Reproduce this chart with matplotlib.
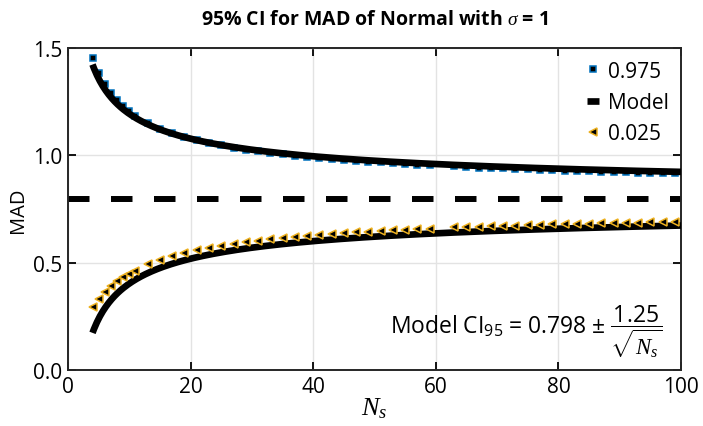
import matplotlib
matplotlib.use("Agg")
import matplotlib.pyplot as plt
import numpy as np

plt.rcParams["font.family"] = ["Open Sans", "DejaVu Sans"]
plt.rcParams["mathtext.fontset"] = "custom"
plt.rcParams["mathtext.rm"] = "Open Sans"
plt.rcParams["mathtext.sf"] = "Open Sans"
plt.rcParams["mathtext.it"] = "Liberation Serif:italic"
plt.rcParams["mathtext.bf"] = "Open Sans:bold"

# Sample sizes used in the simulation
sample_sizes = [4, 5, 6, 7, 8, 9, 10, 11, 13, 15, 17, 19, 21, 23, 25, 27, 29, 31,
                33, 35, 37, 39, 41, 43, 45, 47, 49, 51, 53, 55, 57, 59, 63, 65,
                67, 69, 71, 73, 75, 77, 79, 81, 83, 85, 87, 89, 91, 93, 95, 97, 99]

# Empirical 97.5% quantile of the MAD
q975 = [1.452, 1.385, 1.330, 1.290, 1.256, 1.228, 1.205, 1.185, 1.152, 1.125,
        1.104, 1.086, 1.072, 1.058, 1.046, 1.036, 1.027, 1.019, 1.012, 1.005,
        0.999, 0.993, 0.988, 0.983, 0.979, 0.975, 0.971, 0.967, 0.964, 0.961,
        0.957, 0.954, 0.949, 0.946, 0.943, 0.941, 0.939, 0.937, 0.935, 0.933,
        0.931, 0.929, 0.928, 0.926, 0.924, 0.923, 0.921, 0.920, 0.918, 0.917, 0.916]

# Empirical 2.5% quantile of the MAD
q025 = [0.292, 0.331, 0.364, 0.393, 0.416, 0.435, 0.449, 0.463, 0.492, 0.514,
        0.531, 0.546, 0.558, 0.569, 0.579, 0.588, 0.596, 0.603, 0.609, 0.614,
        0.620, 0.625, 0.630, 0.634, 0.638, 0.642, 0.645, 0.648, 0.651, 0.654,
        0.656, 0.659, 0.664, 0.666, 0.668, 0.670, 0.672, 0.673, 0.675, 0.677,
        0.678, 0.680, 0.681, 0.682, 0.684, 0.685, 0.686, 0.687, 0.688, 0.689, 0.690]

# Model: centre and half-width coefficient
mad_center = 0.798
half_width = 1.25
n_model = np.linspace(4, 100, 400)
model_hi = mad_center + half_width / np.sqrt(n_model)
model_lo = mad_center - half_width / np.sqrt(n_model)

blue = "#0072BD"
gold = "#EDB120"

fig = plt.figure(figsize=(7.03, 4.27), dpi=100)
ax = fig.add_axes([68 / 703, 1 - 371 / 427, 613 / 703, 322 / 427])

ax.grid(True, color="#e3e3e3", linewidth=1.0, zorder=0)
ax.set_axisbelow(True)

ax.plot([0, 100], [mad_center, mad_center], color="black", linewidth=4.3,
        dashes=(3.6, 3.6), zorder=2)

ax.plot(sample_sizes, q975, linestyle="none", marker="s", markersize=4.6,
        markerfacecolor="black", markeredgecolor=blue, markeredgewidth=1.1,
        label="0.975", zorder=3)
ax.plot(n_model, model_hi, color="black", linewidth=4.8, label="Model",
        solid_capstyle="butt", zorder=4)
ax.plot(n_model, model_lo, color="black", linewidth=4.8,
        solid_capstyle="butt", zorder=4)
ax.plot(sample_sizes, q025, linestyle="none", marker="<", markersize=6,
        markerfacecolor="black", markeredgecolor=gold, markeredgewidth=1.1,
        label="0.025", zorder=5)

ax.set_xlim(0, 100)
ax.set_ylim(0, 1.5)
ax.set_xticks([0, 20, 40, 60, 80, 100])
ax.set_yticks([0.0, 0.5, 1.0, 1.5])
ax.set_yticklabels(["0.0", "0.5", "1.0", "1.5"])
ax.tick_params(direction="in", length=6, width=1.3, top=True, right=True,
               labelsize=15, pad=4, colors="black")
for sp in ax.spines.values():
    sp.set_linewidth(1.4)
    sp.set_color("#262626")

ax.set_ylabel("MAD", fontsize=14.5, labelpad=4)
ax.set_xlabel("$N_s$", fontsize=19, labelpad=-1)
ax.set_title(r"95% CI for MAD of Normal with $\sigma$ = 1", fontsize=14,
             fontweight="bold", pad=17)

leg = ax.legend(loc="upper right", frameon=False, fontsize=15, handlelength=0.6,
                handletextpad=0.4, labelspacing=0.5, borderaxespad=0.2,
                markerscale=1.0)

ax.text(0.525, 0.12,
        r"Model CI$_{95}$ = 0.798 ± $\dfrac{1.25}{\sqrt{N_s}}$",
        transform=ax.transAxes, fontsize=16.5, ha="left", va="center")

fig.savefig("out.png", dpi=100)
